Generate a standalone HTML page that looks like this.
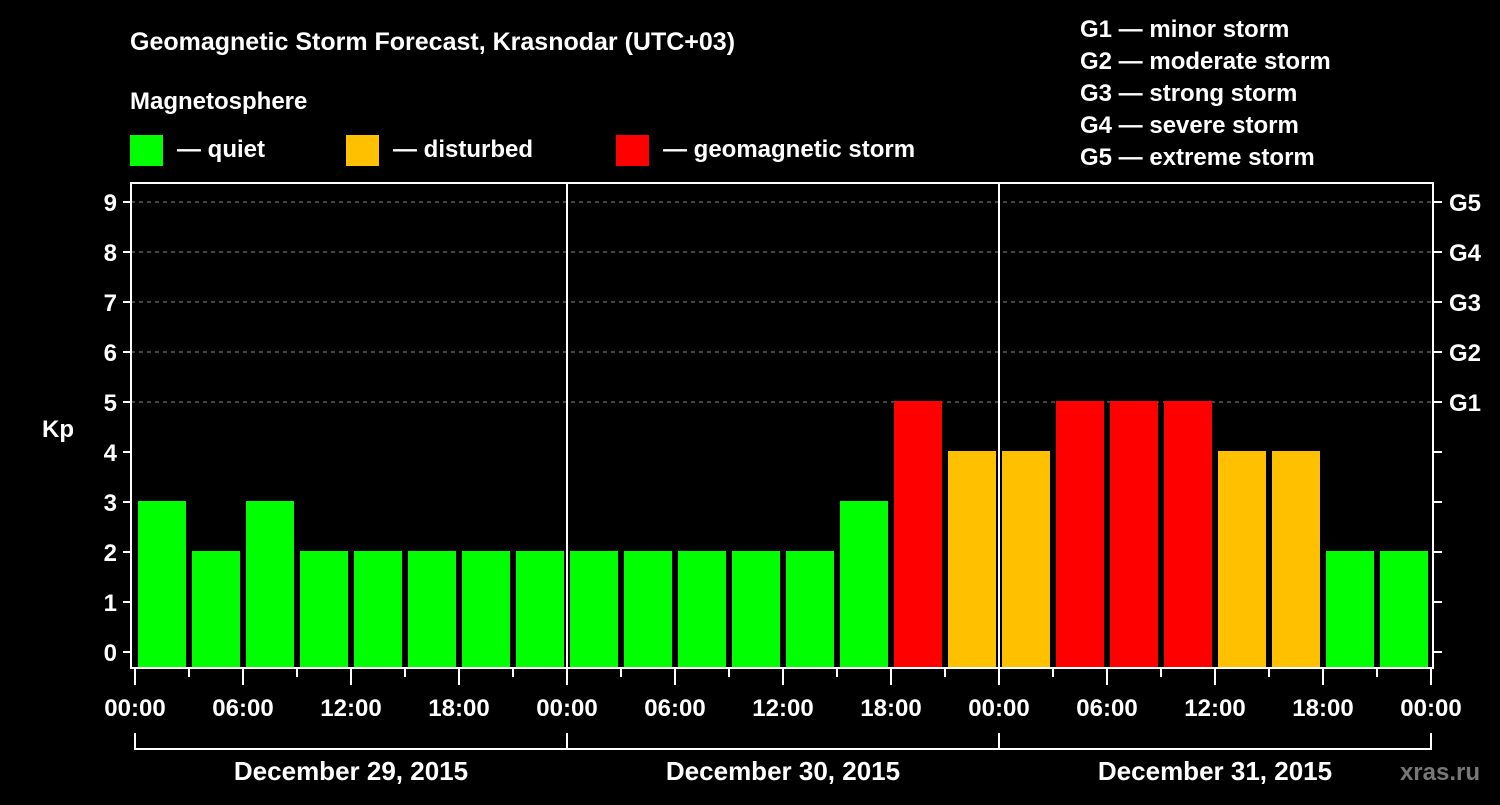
<!DOCTYPE html>
<html><head><meta charset="utf-8"><style>
body{margin:0;background:#000;}
svg text{font-family:"Liberation Sans",sans-serif;font-weight:bold;fill:#fff;}
</style></head><body>
<svg width="1500" height="800" viewBox="0 0 1500 800">
<text x="130" y="50" font-size="25">Geomagnetic Storm Forecast, Krasnodar (UTC+03)</text>
<text x="130" y="109" font-size="24">Magnetosphere</text>
<rect x="130" y="135" width="33" height="31" fill="#00ff00"/>
<text x="177" y="157" font-size="24">— quiet</text>
<rect x="346" y="135" width="33" height="31" fill="#ffc000"/>
<text x="393" y="157" font-size="24">— disturbed</text>
<rect x="616" y="135" width="33" height="31" fill="#ff0000"/>
<text x="663" y="157" font-size="24">— geomagnetic storm</text>
<g font-size="24">
<text x="1080" y="37">G1 — minor storm</text>
<text x="1080" y="69">G2 — moderate storm</text>
<text x="1080" y="101">G3 — strong storm</text>
<text x="1080" y="133">G4 — severe storm</text>
<text x="1080" y="165">G5 — extreme storm</text>
</g>
<text x="42" y="437" font-size="24">Kp</text>
<text x="1480" y="780" font-size="24" fill="#888" style="fill:#777" text-anchor="end">xras.ru</text>
<g id="chart"></g>
</svg>
<script>
const values=[3,2,3,2,2,2,2,2, 2,2,2,2,2,3,5,4, 4,5,5,5,4,4,2,2];
const yTicks=[0,1,2,3,4,5,6,7,8,9];
const gLabels=["G1","G2","G3","G4","G5"];
const xLabels=["00:00","06:00","12:00","18:00","00:00","06:00","12:00","18:00","00:00","06:00","12:00","18:00","00:00"];
const days=["December 29, 2015","December 30, 2015","December 31, 2015"];
const NS="http://www.w3.org/2000/svg";
const g=document.getElementById('chart');
const X0=135,PH=18,L=131,R=1433,T=183,B=668;
const x=h=>X0+h*PH;
const y=v=>652-50*v;
function mk(t,a){const e=document.createElementNS(NS,t);for(const k in a)e.setAttribute(k,a[k]);g.appendChild(e);return e;}
function col(v){return v>=5?'#ff0000':v>=4?'#ffc000':'#00ff00';}
// grid
for(let v=5;v<=9;v++){
const l=mk('line',{x1:L,x2:R,y1:y(v),y2:y(v),stroke:'#888','stroke-dasharray':'4 4','stroke-width':1});


}
values.forEach((v,i)=>{
const r=mk('rect',{x:x(i*3)+3,y:y(v)-1,width:48,height:B-y(v)+1,fill:col(v)});


});
// frame
const f=mk('rect',{x:L,y:T,width:R-L,height:B-T,fill:'none',stroke:'#fff','stroke-width':2});


for(let d=1;d<3;d++){
const l=mk('line',{x1:x(d*24),x2:x(d*24),y1:T,y2:B,stroke:'#fff','stroke-width':2});


}
yTicks.forEach(v=>{
mk('line',{x1:L-8,x2:L,y1:y(v),y2:y(v),stroke:'#fff','stroke-width':2});
mk('line',{x1:R,x2:R+9,y1:y(v),y2:y(v),stroke:'#fff','stroke-width':2});
const t=mk('text',{x:117,y:y(v)+9,'font-size':24,'text-anchor':'end'});
t.textContent=v;


});
gLabels.forEach((s,i)=>{
const t=mk('text',{x:1449,y:y(5+i)+9,'font-size':24});
t.textContent=s;


});
for(let h=0;h<=72;h+=3){
const big=h%6===0;
mk('line',{x1:x(h),x2:x(h),y1:B,y2:B+(big?17:9),stroke:'#fff','stroke-width':2});
}
xLabels.forEach((s,i)=>{
const t=mk('text',{x:x(i*6),y:716,'font-size':24,'text-anchor':'middle'});
t.textContent=s;


});
mk('path',{d:`M${x(0)} 733V749H${x(72)}V733`,fill:'none',stroke:'#fff','stroke-width':2});
for(let d=1;d<3;d++)mk('line',{x1:x(d*24),x2:x(d*24),y1:733,y2:749,stroke:'#fff','stroke-width':2});
days.forEach((s,i)=>{
const t=mk('text',{x:x(i*24+12),y:780,'font-size':26,'text-anchor':'middle'});
t.textContent=s;


});
</script>
</body></html>
